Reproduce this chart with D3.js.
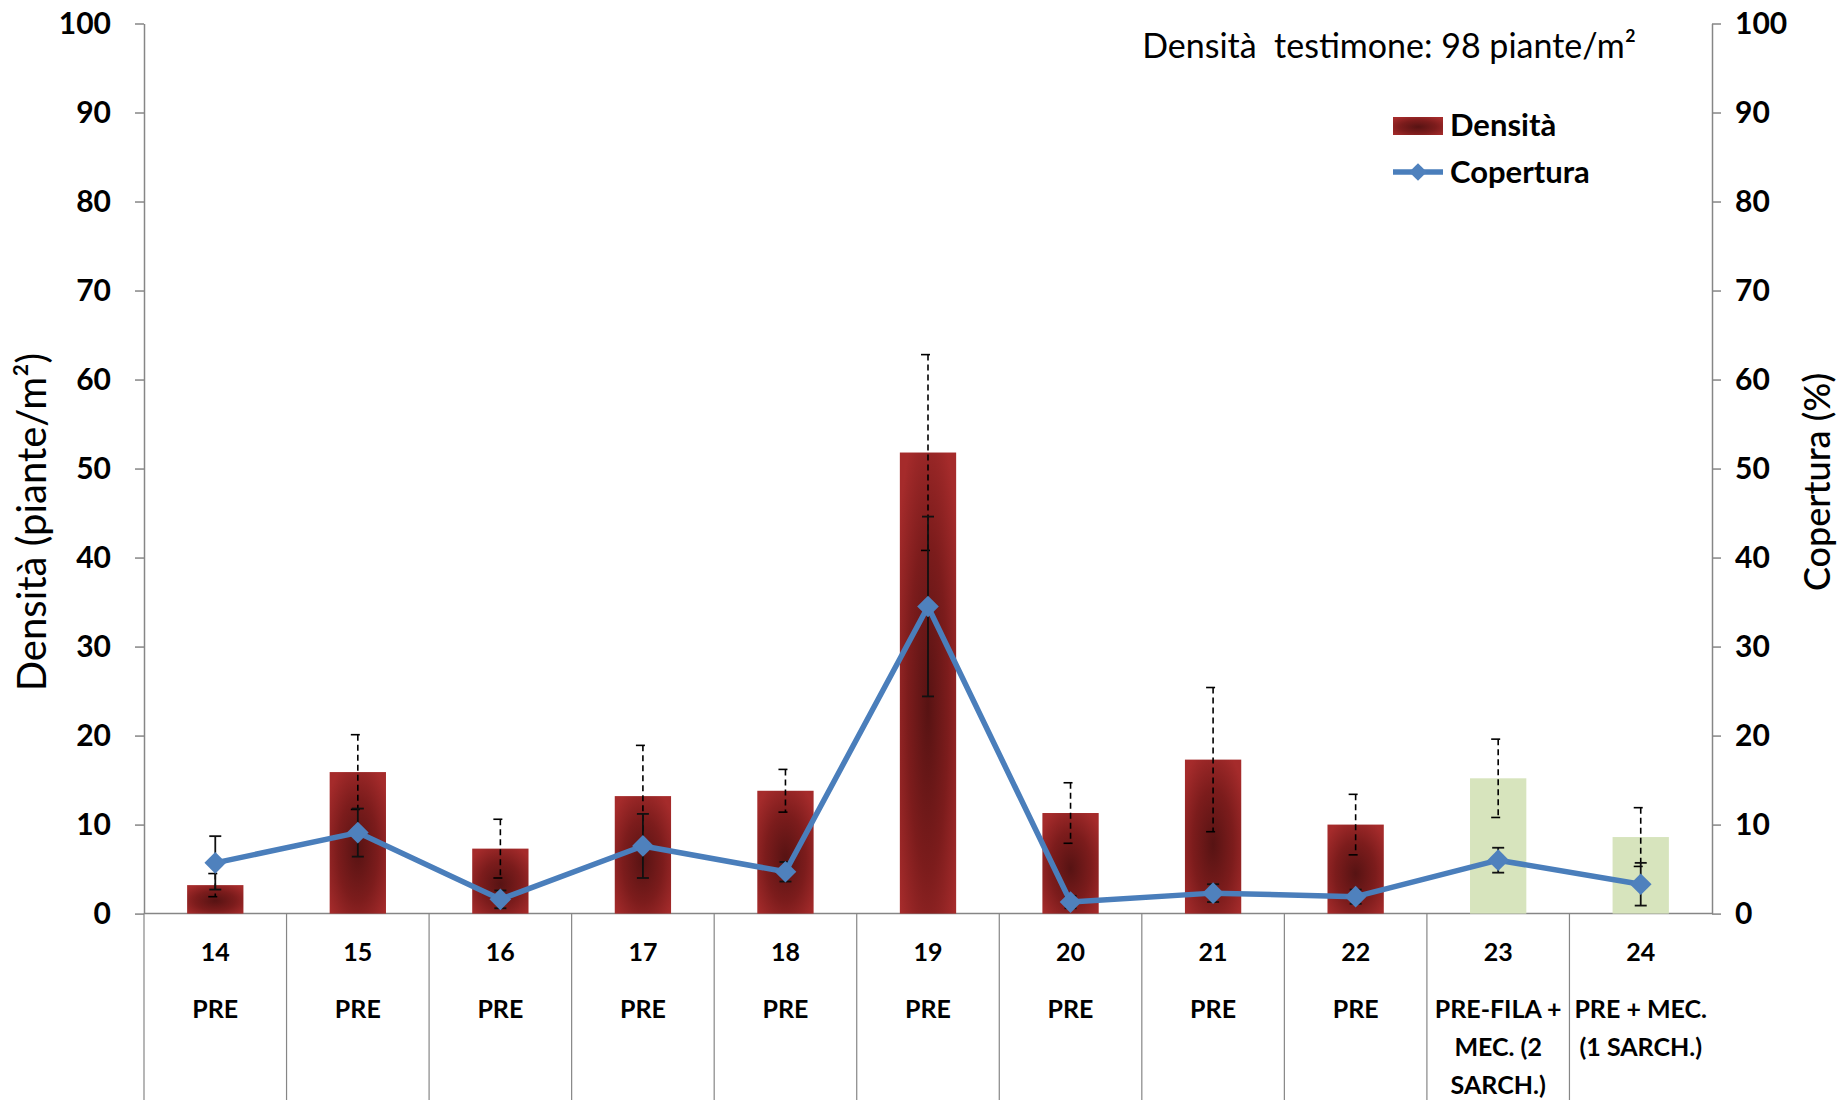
<!DOCTYPE html>
<html>
<head>
<meta charset="utf-8">
<script src="https://cdn.jsdelivr.net/npm/d3@7/dist/d3.min.js"></script>
<style>
  body { margin: 0; background: #fff; }
  svg { display: block; font-family: Lato, "Open Sans", sans-serif; }
</style>
</head>
<body>
<div class="wrapper"></div>
<script>
var categories = ["14", "15", "16", "17", "18", "19", "20", "21", "22", "23", "24"];
var treatments = [
  ["PRE"], ["PRE"], ["PRE"], ["PRE"], ["PRE"], ["PRE"], ["PRE"], ["PRE"], ["PRE"],
  ["PRE-FILA +", "MEC. (2", "SARCH.)"],
  ["PRE + MEC.", "(1 SARCH.)"]
];
// Densità (piante/m²), bars
var densita    = [3.2, 15.9, 7.3, 13.2, 13.8, 51.8, 11.3, 17.3, 10.0, 15.2, 8.6];
var densitaErr = [1.3, 4.2, 3.3, 5.7, 2.4, 11.0, 3.4, 8.1, 3.4, 4.4, 3.3];
// mixed treatments shown in light green
var mixed      = [false, false, false, false, false, false, false, false, false, true, true];
// Copertura (%), line
var copertura    = [5.7, 9.1, 1.6, 7.6, 4.7, 34.5, 1.3, 2.3, 1.9, 6.0, 3.3];
var coperturaErr = [3.0, 2.7, 1.0, 3.6, 1.1, 10.1, 0.7, 1.0, 0.8, 1.4, 2.4];
var yTicks = [0, 10, 20, 30, 40, 50, 60, 70, 80, 90, 100];

var width = 1839, height = 1100;
var margin = {left: 144, right: 127, top: 23.5, bottom: 186.4};

var svg = d3.select(".wrapper").append("svg")
  .attr("width", width)
  .attr("height", height);

var defs = svg.append("defs");
var grad = defs.append("radialGradient")
  .attr("id", "barGrad")
  .attr("cx", "50%").attr("cy", "55%").attr("r", "65%");
grad.append("stop").attr("offset", "0%").attr("stop-color", "#571313");
grad.append("stop").attr("offset", "55%").attr("stop-color", "#7c1c1c");
grad.append("stop").attr("offset", "100%").attr("stop-color", "#a52b2b");

var x = d3.scaleBand()
  .domain(categories)
  .range([margin.left, width - margin.right])
  .padding(0);
var y = d3.scaleLinear().domain([0, 100]).range([height - margin.bottom, margin.top]);
var y2 = d3.scaleLinear().domain([0, 100]).range([height - margin.bottom, margin.top]);

var barW = x.bandwidth() * 0.395;
var cx = function(d, i) { return x(categories[i]) + x.bandwidth() / 2; };

// axes
var axL = svg.append("g")
  .attr("transform", "translate(" + margin.left + ",0)")
  .call(d3.axisLeft(y).tickValues(yTicks).tickSize(9).tickPadding(24).tickSizeOuter(0));
var axR = svg.append("g")
  .attr("transform", "translate(" + (width - margin.right) + ",0)")
  .call(d3.axisRight(y2).tickValues(yTicks).tickSize(9).tickPadding(14).tickSizeOuter(0));
[axL, axR].forEach(function(ax) {
  ax.select(".domain").attr("stroke", "#868686").attr("stroke-width", 1.5);
  ax.selectAll(".tick line").attr("stroke", "#868686").attr("stroke-width", 1.5);
  ax.selectAll(".tick text")
    .attr("fill", "#000")
    .attr("font-family", "Lato, sans-serif")
    .attr("font-weight", "bold")
    .attr("font-size", 30);
});

// bottom table
var table = svg.append("g");
table.append("line")
  .attr("x1", margin.left).attr("x2", width - margin.right)
  .attr("y1", y(0)).attr("y2", y(0))
  .attr("stroke", "#868686").attr("stroke-width", 1.5);
table.selectAll(".sep")
  .data(categories)
  .enter().append("line")
    .attr("class", "sep")
    .attr("x1", function(d) { return x(d); })
    .attr("x2", function(d) { return x(d); })
    .attr("y1", y(0)).attr("y2", height)
    .attr("stroke", "#868686").attr("stroke-width", 1.2);
table.selectAll(".catnum")
  .data(categories)
  .enter().append("text")
    .attr("class", "catnum")
    .attr("x", function(d) { return x(d) + x.bandwidth() / 2; })
    .attr("y", 961)
    .attr("text-anchor", "middle")
    .attr("font-size", 25)
    .attr("font-weight", "bold")
    .text(function(d) { return d; });
table.selectAll(".treat")
  .data(treatments)
  .enter().append("text")
    .attr("class", "treat")
    .attr("text-anchor", "middle")
    .attr("font-size", 25)
    .attr("font-weight", "bold")
    .each(function(lines, i) {
      var t = d3.select(this);
      lines.forEach(function(l, k) {
        t.append("tspan")
          .attr("x", x(categories[i]) + x.bandwidth() / 2)
          .attr("y", 1018 + k * 38)
          .text(l);
      });
    });

// bars
svg.append("g")
  .selectAll("rect")
  .data(densita)
  .enter().append("rect")
    .attr("x", function(d, i) { return cx(d, i) - barW / 2; })
    .attr("y", function(d) { return y(d); })
    .attr("width", barW)
    .attr("height", function(d) { return y(0) - y(d); })
    .attr("fill", function(d, i) { return mixed[i] ? "#d7e4bd" : "url(#barGrad)"; });

// density error bars (dashed)
var eb = svg.append("g").attr("stroke", "#000").attr("stroke-width", 1.6);
eb.selectAll(".dline")
  .data(densita)
  .enter().append("line")
    .attr("x1", cx).attr("x2", cx)
    .attr("y1", function(d, i) { return y(d + densitaErr[i]); })
    .attr("y2", function(d, i) { return y(d - densitaErr[i]); })
    .attr("stroke-dasharray", "6,4");
eb.selectAll(".dcapT")
  .data(densita)
  .enter().append("line")
    .attr("x1", function(d, i) { return cx(d, i) - 7; })
    .attr("x2", function(d, i) { return cx(d, i) + 2; })
    .attr("y1", function(d, i) { return y(d + densitaErr[i]); })
    .attr("y2", function(d, i) { return y(d + densitaErr[i]); });
eb.selectAll(".dcapB")
  .data(densita)
  .enter().append("line")
    .attr("x1", function(d, i) { return cx(d, i) - 7; })
    .attr("x2", function(d, i) { return cx(d, i) + 2; })
    .attr("y1", function(d, i) { return y(d - densitaErr[i]); })
    .attr("y2", function(d, i) { return y(d - densitaErr[i]); });

// copertura error bars (solid)
var ce = svg.append("g").attr("stroke", "#111").attr("stroke-width", 1.8);
ce.selectAll(".cline")
  .data(copertura)
  .enter().append("line")
    .attr("x1", cx).attr("x2", cx)
    .attr("y1", function(d, i) { return y2(d + coperturaErr[i]); })
    .attr("y2", function(d, i) { return y2(Math.max(0, d - coperturaErr[i])); });
[1, -1].forEach(function(s) {
  ce.selectAll(".ccap" + s)
    .data(copertura)
    .enter().append("line")
      .attr("x1", function(d, i) { return cx(d, i) - 6; })
      .attr("x2", function(d, i) { return cx(d, i) + 6; })
      .attr("y1", function(d, i) { return y2(d + s * coperturaErr[i]); })
      .attr("y2", function(d, i) { return y2(d + s * coperturaErr[i]); });
});

// copertura line
var line = d3.line()
  .x(function(d, i) { return cx(d, i); })
  .y(function(d) { return y2(d); });
svg.append("path")
  .datum(copertura)
  .attr("d", line)
  .attr("fill", "none")
  .attr("stroke", "#4a7ebb")
  .attr("stroke-width", 5.5)
  .attr("stroke-linejoin", "round");
var diamond = d3.symbol().type(d3.symbolDiamond2).size(300);
svg.append("g")
  .selectAll("path")
  .data(copertura)
  .enter().append("path")
    .attr("transform", function(d, i) { return "translate(" + cx(d, i) + "," + y2(d) + ")"; })
    .attr("d", diamond)
    .attr("fill", "#4f81bd");

// axis titles
svg.append("text")
  .attr("transform", "translate(46," + 522 + ") rotate(-90)")
  .attr("text-anchor", "middle")
  .attr("font-size", 40)
  .text("Densità (piante/m²)");
svg.append("text")
  .attr("transform", "translate(1830," + 482 + ") rotate(-90)")
  .attr("text-anchor", "middle")
  .attr("font-size", 36)
  .attr("font-weight", 500)
  .text("Copertura (%)");

// note
svg.append("text")
  .attr("x", 1636)
  .attr("y", 58)
  .attr("text-anchor", "end")
  .attr("font-size", 34)
  .attr("xml:space", "preserve")
  .text("Densità  testimone: 98 piante/m²");

// legend
var leg = svg.append("g").attr("font-size", 31).attr("font-weight", "bold");
leg.append("rect")
  .attr("x", 1393).attr("y", 117).attr("width", 50).attr("height", 18)
  .attr("fill", "url(#barGrad)");
leg.append("text").attr("x", 1450).attr("y", 136).text("Densità");
leg.append("line")
  .attr("x1", 1393).attr("x2", 1443).attr("y1", 172).attr("y2", 172)
  .attr("stroke", "#4a7ebb").attr("stroke-width", 5.5);
leg.append("path")
  .attr("transform", "translate(1418,172)")
  .attr("d", d3.symbol().type(d3.symbolDiamond2).size(200))
  .attr("fill", "#4f81bd");
leg.append("text").attr("x", 1450).attr("y", 183).text("Copertura");
</script>
</body>
</html>
